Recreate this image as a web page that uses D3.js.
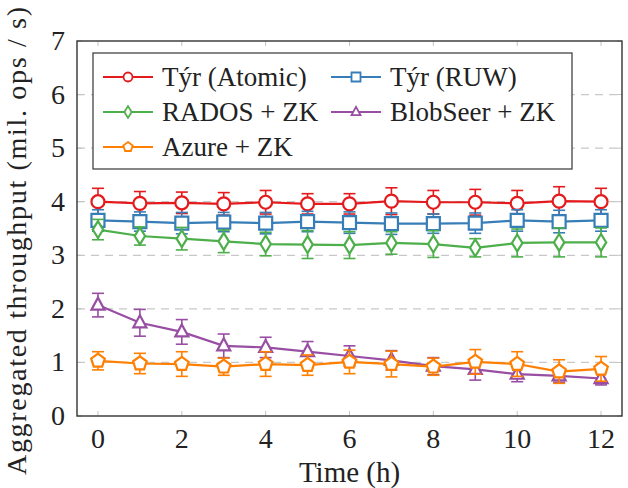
<!DOCTYPE html>
<html>
<head>
<meta charset="utf-8">
<script src="https://cdn.jsdelivr.net/npm/d3@7"></script>
<style>
  body { margin: 0; background: #fff; }
</style>
</head>
<body>
<div id="chart"></div>
<script>
const hours = [0, 1, 2, 3, 4, 5, 6, 7, 8, 9, 10, 11, 12];

const tyrAtomic    = [4.00, 3.97, 3.98, 3.96, 3.99, 3.96, 3.96, 4.01, 3.99, 3.99, 3.97, 4.01, 4.00];
const tyrAtomicErr = [0.25, 0.22, 0.20, 0.21, 0.22, 0.19, 0.19, 0.25, 0.22, 0.24, 0.24, 0.27, 0.25];
const tyrRuw       = [3.65, 3.63, 3.60, 3.62, 3.60, 3.63, 3.61, 3.59, 3.59, 3.60, 3.65, 3.63, 3.65];
const tyrRuwErr    = [0.20, 0.18, 0.20, 0.18, 0.20, 0.19, 0.20, 0.20, 0.18, 0.19, 0.20, 0.21, 0.20];
const rados        = [3.48, 3.36, 3.31, 3.26, 3.21, 3.20, 3.19, 3.23, 3.21, 3.14, 3.23, 3.24, 3.24];
const radosErr     = [0.19, 0.17, 0.21, 0.21, 0.22, 0.26, 0.25, 0.21, 0.25, 0.17, 0.26, 0.27, 0.27];
const blobseer     = [2.07, 1.74, 1.57, 1.31, 1.28, 1.20, 1.12, 1.04, 0.93, 0.87, 0.78, 0.75, 0.70];
const blobseerErr  = [0.22, 0.25, 0.23, 0.22, 0.19, 0.19, 0.19, 0.18, 0.16, 0.20, 0.14, 0.12, 0.12];
const azure        = [1.03, 0.98, 0.97, 0.92, 0.97, 0.95, 1.01, 0.97, 0.92, 1.01, 0.97, 0.83, 0.88];
const azureErr     = [0.17, 0.19, 0.23, 0.16, 0.23, 0.19, 0.22, 0.24, 0.16, 0.23, 0.23, 0.22, 0.23];

const xTicks = [0, 2, 4, 6, 8, 10, 12];
const yTicks = [0, 1, 2, 3, 4, 5, 6, 7];

const series = [
  { name: "Týr (Atomic)", values: tyrAtomic, errs: tyrAtomicErr, color: "#e41a1c", marker: "circle" },
  { name: "Týr (RUW)",    values: tyrRuw,    errs: tyrRuwErr,    color: "#377eb8", marker: "square" },
  { name: "RADOS + ZK",   values: rados,     errs: radosErr,     color: "#4daf4a", marker: "diamond" },
  { name: "BlobSeer + ZK", values: blobseer, errs: blobseerErr,  color: "#984ea3", marker: "triangle" },
  { name: "Azure + ZK",   values: azure,     errs: azureErr,     color: "#ff7f00", marker: "pentagon" }
];

const W = 628, H = 488;
const frame = { left: 77, right: 622, top: 41, bottom: 416 };
const FONT = "Liberation Serif";

const svg = d3.select("#chart").append("svg")
  .attr("width", W).attr("height", H);

const x = d3.scaleLinear().domain([-0.5, 12.5]).range([frame.left, frame.right]);
const y = d3.scaleLinear().domain([0, 7]).range([frame.bottom, frame.top]);

// grid
svg.append("g").selectAll("line").data(yTicks.filter(t => t > 0 && t < 7)).join("line")
  .attr("x1", frame.left).attr("x2", frame.right)
  .attr("y1", d => y(d)).attr("y2", d => y(d))
  .attr("stroke", "#c8c8c8").attr("stroke-width", 1.2).attr("stroke-dasharray", "8 6");

// inner ticks
const tickG = svg.append("g").attr("stroke", "#c4c4c4").attr("stroke-width", 1);
xTicks.forEach(t => {
  tickG.append("line").attr("x1", x(t)).attr("x2", x(t)).attr("y1", frame.bottom).attr("y2", frame.bottom - 5);
  tickG.append("line").attr("x1", x(t)).attr("x2", x(t)).attr("y1", frame.top).attr("y2", frame.top + 5);
});
yTicks.forEach(t => {
  tickG.append("line").attr("x1", frame.left).attr("x2", frame.left + 5).attr("y1", y(t)).attr("y2", y(t));
  tickG.append("line").attr("x1", frame.right).attr("x2", frame.right - 5).attr("y1", y(t)).attr("y2", y(t));
});

// frame
svg.append("rect")
  .attr("x", frame.left).attr("y", frame.top)
  .attr("width", frame.right - frame.left).attr("height", frame.bottom - frame.top)
  .attr("fill", "none").attr("stroke", "#333").attr("stroke-width", 1.4);

// tick labels
svg.append("g").selectAll("text").data(xTicks).join("text")
  .attr("x", d => x(d)).attr("y", 448)
  .attr("text-anchor", "middle").attr("font-family", FONT).attr("font-size", 28).attr("fill", "#222")
  .text(d => d);
svg.append("g").selectAll("text").data(yTicks).join("text")
  .attr("x", 65).attr("y", d => y(d) + 9)
  .attr("text-anchor", "end").attr("font-family", FONT).attr("font-size", 28).attr("fill", "#222")
  .text(d => d);

// axis labels
svg.append("text")
  .attr("x", (frame.left + frame.right) / 2).attr("y", 482)
  .attr("text-anchor", "middle").attr("font-family", FONT).attr("font-size", 29).attr("fill", "#222")
  .text("Time (h)");
svg.append("text")
  .attr("transform", `translate(26,241) rotate(-90)`)
  .attr("text-anchor", "middle").attr("font-family", FONT).attr("font-size", 28).attr("fill", "#222")
  .attr("textLength", 468).attr("lengthAdjust", "spacing")
  .text("Aggregated throughput (mil. ops / s)");

function markerPath(type, s) {
  if (type === "circle") return d3.symbol(d3.symbolCircle, Math.PI * s * s)();
  if (type === "square") return `M${-s},${-s}H${s}V${s}H${-s}Z`;
  if (type === "diamond") return `M0,${-s * 1.3}L${s * 0.8},0L0,${s * 1.3}L${-s * 0.8},0Z`;
  if (type === "triangle") return `M0,${-s * 1.15}L${s},${s * 0.7}L${-s},${s * 0.7}Z`;
  if (type === "pentagon") {
    const pts = d3.range(5).map(i => {
      const a = -Math.PI / 2 + i * 2 * Math.PI / 5;
      return [s * 1.1 * Math.cos(a), s * 1.1 * Math.sin(a)];
    });
    return "M" + pts.map(p => p.join(",")).join("L") + "Z";
  }
}

const line = d3.line().x((d, i) => x(hours[i])).y(d => y(d));

series.forEach(s => {
  const g = svg.append("g");
  // error bars
  hours.forEach((h, i) => {
    const lo = y(s.values[i] - s.errs[i]), hi = y(s.values[i] + s.errs[i]);
    g.append("line").attr("x1", x(h)).attr("x2", x(h)).attr("y1", lo).attr("y2", hi)
      .attr("stroke", s.color).attr("stroke-width", 1.6);
    [lo, hi].forEach(yy => g.append("line")
      .attr("x1", x(h) - 6).attr("x2", x(h) + 6).attr("y1", yy).attr("y2", yy)
      .attr("stroke", s.color).attr("stroke-width", 1.6));
  });
  g.append("path").attr("d", line(s.values))
    .attr("fill", "none").attr("stroke", s.color).attr("stroke-width", 2.2);
  g.selectAll("path.mk").data(s.values).join("path").attr("class", "mk")
    .attr("transform", (d, i) => `translate(${x(hours[i])},${y(d)})`)
    .attr("d", markerPath(s.marker, 6.5))
    .attr("fill", "#fff").attr("stroke", s.color).attr("stroke-width", 2.2);
});

// legend
const legend = svg.append("g");
legend.append("rect")
  .attr("x", 93).attr("y", 53).attr("width", 479).attr("height", 116)
  .attr("fill", "#fff").attr("stroke", "#444").attr("stroke-width", 1.3);
const legendPos = [[103, 77], [331, 77], [103, 112], [331, 112], [103, 147]];
series.forEach((s, i) => {
  const [lx, ly] = legendPos[i];
  legend.append("line").attr("x1", lx).attr("x2", lx + 50).attr("y1", ly).attr("y2", ly)
    .attr("stroke", s.color).attr("stroke-width", 2);
  legend.append("path").attr("transform", `translate(${lx + 25},${ly})`)
    .attr("d", markerPath(s.marker, 4.5))
    .attr("fill", "#fff").attr("stroke", s.color).attr("stroke-width", 1.8);
  legend.append("text").attr("x", lx + 59).attr("y", ly + 9)
    .attr("font-family", FONT).attr("font-size", 27).attr("fill", "#222").text(s.name);
});
</script>
</body>
</html>
